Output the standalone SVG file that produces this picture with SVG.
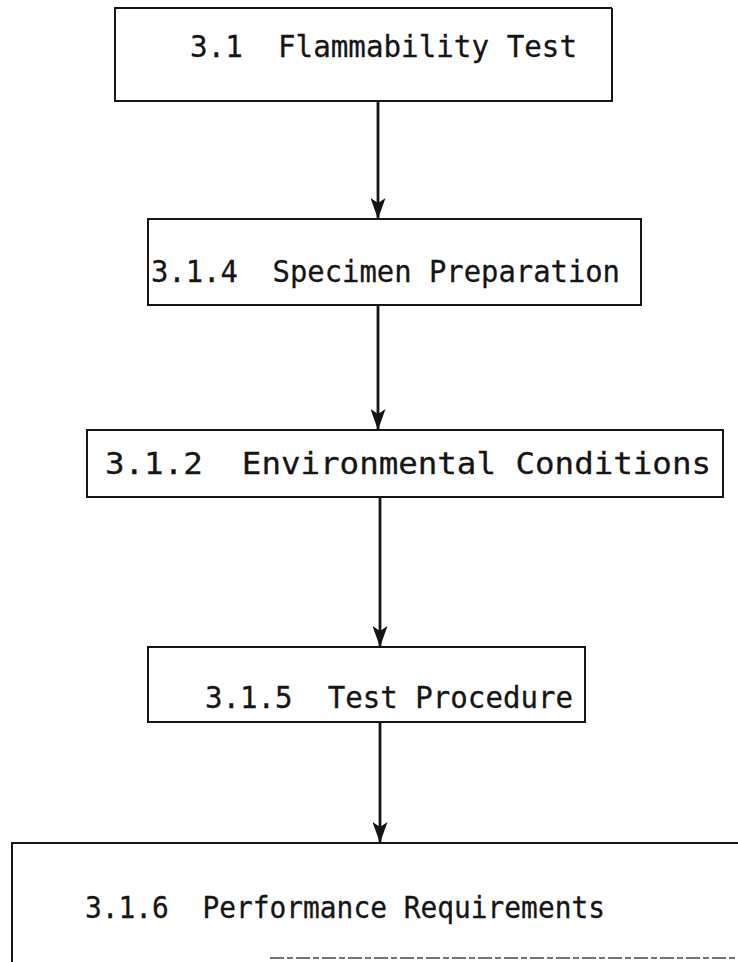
<svg xmlns="http://www.w3.org/2000/svg" width="738" height="962" viewBox="0 0 738 962">
  <style>
    .box { fill: none; stroke: #151515; stroke-width: 2; }
    .lbl { font-family: "DejaVu Sans Mono", "Liberation Mono", monospace; font-size: 31px; fill: #151515; stroke: #151515; stroke-width: 0.3; white-space: pre; }
    .link { stroke: #151515; stroke-width: 2.8; fill: none; }
  </style>
  <defs>
    <!-- filled, slightly barbed arrowhead pointing along the line -->
    <marker id="arrow" viewBox="0 0 21 15" refX="21" refY="7.5" markerWidth="21" markerHeight="15" markerUnits="userSpaceOnUse" orient="auto">
      <path d="M0,0 L5,7.5 L0,15 L21,7.5 Z" fill="#151515"/>
    </marker>
  </defs>
  <rect width="738" height="962" fill="#ffffff"/>

  <g id="flammability-test">
    <path class="box" d="M612,8 L115,8 L115,101 L612,101 L612,8"/>
    <text class="lbl" x="190" y="57" textLength="387" lengthAdjust="spacingAndGlyphs" xml:space="preserve">3.1  Flammability Test</text>
  </g>

  <g id="specimen-preparation">
    <path class="box" d="M148,219 L641,219 L641,305 L148,305 Z"/>
    <text class="lbl" x="151" y="282" textLength="469" lengthAdjust="spacingAndGlyphs" xml:space="preserve">3.1.4  Specimen Preparation</text>
  </g>

  <g id="environmental-conditions">
    <path class="box" d="M87,430 L723,430 L723,497 L87,497 Z"/>
    <text class="lbl" x="105" y="474" textLength="606" lengthAdjust="spacingAndGlyphs" xml:space="preserve">3.1.2  Environmental Conditions</text>
  </g>

  <g id="test-procedure">
    <path class="box" d="M148,647 L585,647 L585,722 L148,722 Z"/>
    <text class="lbl" x="205" y="708" textLength="368" lengthAdjust="spacingAndGlyphs" xml:space="preserve">3.1.5  Test Procedure</text>
  </g>

  <g id="performance-requirements">
    <path class="box" d="M738,843 L12,843 L12,962"/>
    <path class="box" d="M270,958 L738,958" stroke-dasharray="14 3 6 3" opacity="0.6"/>
    <text class="lbl" x="85" y="918" textLength="520" lengthAdjust="spacingAndGlyphs" xml:space="preserve">3.1.6  Performance Requirements</text>
  </g>

  <g id="connectors">
    <line class="link" x1="378" y1="101" x2="378" y2="219" marker-end="url(#arrow)"/>
    <line class="link" x1="378" y1="305" x2="378" y2="430" marker-end="url(#arrow)"/>
    <line class="link" x1="380" y1="497" x2="380" y2="647" marker-end="url(#arrow)"/>
    <line class="link" x1="380" y1="722" x2="380" y2="843" marker-end="url(#arrow)"/>
  </g>
</svg>
